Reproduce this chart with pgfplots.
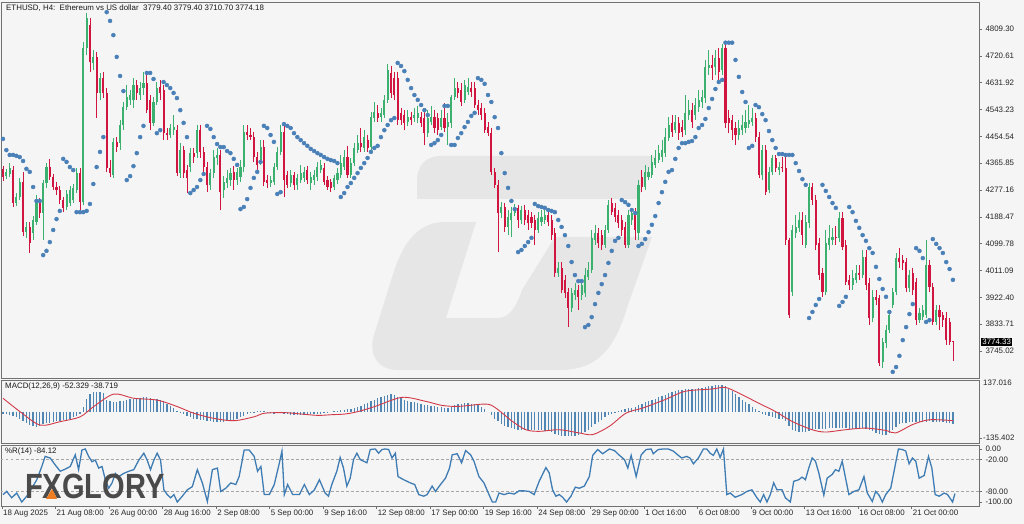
\documentclass[border=0pt]{standalone}
\usepackage{fontspec}
\setmainfont{Liberation Sans}
\usepackage{graphicx}
\usepackage{pgfplots}
\usepackage{pgfplotstable}
\pgfplotsset{compat=1.18}

\definecolor{bg}{HTML}{F5F5F5}
\definecolor{frame}{HTML}{707070}
\definecolor{bull}{HTML}{3CB06E}
\definecolor{bear}{HTML}{D01640}
\definecolor{sar}{HTML}{4A80B8}
\definecolor{hist}{HTML}{4F86B3}
\definecolor{sig}{HTML}{D23A48}
\definecolor{wpr}{HTML}{3F7CB3}
\definecolor{wmark}{HTML}{E6E6E6}
\definecolor{logo}{HTML}{4A4A4A}
\definecolor{orng}{HTML}{EE7D22}

\newcommand\mt{\fontsize{7.9}{9}\selectfont}

% ETHUSD H4 bars: open high low close, parabolic SAR, MACD main
\pgfplotstableread{
o h l c s m
4347 4356 4307 4320 4446 -8
4323 4347 4313 4337 4409 -12
4330 4366 4320 4350 4393 -15
4343 4356 4221 4234 4393 -18
4234 4267 4224 4254 4390 -25
4254 4317 4244 4304 4386 -32
4304 4337 4125 4138 4373 -40
4138 4171 4119 4155 4347 -48
4155 4171 4069 4102 4337 -56
4135 4191 4112 4178 4287 -63
4171 4261 4162 4244 4241 -65
4237 4251 4185 4201 4241 -60
4201 4310 4112 4300 4062 -55
4300 4366 4284 4353 4076 -50
4353 4380 4310 4320 4105 -47
4320 4330 4277 4287 4145 -45
4287 4304 4261 4277 4181 -42
4277 4290 4231 4244 4208 -40
4244 4254 4204 4218 4380 -38
4221 4277 4211 4264 4370 -35
4234 4290 4224 4277 4353 -30
4244 4297 4234 4284 4343 -25
4277 4350 4267 4333 4204 -20
4333 4350 4211 4237 4204 -10
4237 4766 4228 4746 4204 20
4746 4862 4723 4846 4208 55
4822 4846 4667 4700 4231 75
4697 4740 4674 4717 4297 85
4717 4733 4515 4598 4353 86
4598 4664 4575 4647 4403 85
4647 4667 4581 4598 4452 80
4598 4614 4337 4350 4865 50
4350 4376 4320 4333 4836 45
4327 4449 4317 4436 4789 40
4436 4452 4403 4419 4717 42
4432 4508 4409 4492 4654 45
4492 4568 4475 4551 4604 48
4551 4624 4541 4584 4310 52
4575 4608 4558 4591 4323 55
4575 4647 4548 4624 4356 57
4624 4641 4575 4598 4399 60
4591 4634 4575 4614 4452 61
4614 4667 4591 4631 4489 62
4631 4667 4532 4541 4664 62
4575 4591 4475 4499 4664 60
4499 4584 4489 4568 4644 57
4568 4634 4558 4614 4465 55
4618 4641 4575 4598 4475 52
4608 4624 4442 4465 4634 45
4465 4482 4442 4459 4624 35
4459 4495 4449 4482 4614 25
4475 4525 4459 4485 4598 15
4475 4492 4323 4333 4581 5
4333 4432 4317 4409 4541 -5
4409 4423 4317 4333 4499 -12
4343 4360 4267 4317 4452 -18
4353 4416 4337 4399 4267 -25
4399 4416 4366 4386 4277 -30
4399 4492 4383 4475 4287 -33
4475 4492 4383 4403 4310 -35
4403 4419 4337 4353 4330 -38
4353 4370 4270 4294 4489 -40
4294 4347 4277 4333 4479 -42
4333 4409 4317 4386 4452 -44
4383 4416 4360 4393 4429 -45
4393 4409 4211 4270 4419 -45
4277 4323 4251 4304 4419 -44
4300 4343 4284 4317 4406 -42
4310 4350 4290 4333 4399 -38
4337 4356 4277 4310 4380 -35
4310 4350 4294 4337 4360 -30
4320 4376 4304 4353 4214 -25
4353 4492 4337 4469 4221 -18
4469 4492 4442 4459 4247 -10
4459 4482 4442 4452 4284 -5
4452 4469 4370 4386 4317 -2
4386 4403 4343 4360 4337 2
4376 4442 4360 4419 4370 3
4419 4442 4290 4304 4489 2
4310 4327 4284 4300 4482 -2
4300 4323 4287 4310 4459 -5
4304 4366 4294 4353 4436 -8
4353 4419 4343 4403 4264 -5
4403 4492 4393 4469 4270 -3
4469 4489 4254 4310 4495 -8
4327 4340 4284 4294 4489 -12
4300 4343 4287 4327 4482 -14
4327 4337 4277 4294 4465 -15
4294 4330 4277 4317 4452 -15
4310 4360 4300 4333 4442 -15
4317 4353 4304 4337 4432 -14
4343 4356 4297 4310 4423 -13
4300 4337 4277 4320 4413 -12
4310 4343 4294 4327 4406 -10
4320 4370 4307 4353 4399 -10
4343 4376 4333 4360 4393 -8
4350 4366 4294 4304 4386 -5
4310 4323 4277 4287 4380 -3
4304 4313 4270 4284 4376 0
4287 4327 4277 4317 4373 3
4310 4350 4297 4333 4366 5
4327 4393 4317 4366 4254 6
4353 4409 4343 4386 4267 8
4386 4423 4317 4327 4287 10
4327 4383 4317 4366 4300 12
4366 4432 4356 4416 4317 15
4409 4459 4399 4432 4333 20
4432 4482 4403 4419 4350 26
4416 4475 4403 4452 4366 32
4442 4459 4403 4416 4383 38
4419 4535 4409 4518 4403 45
4515 4568 4502 4535 4416 52
4532 4558 4502 4515 4423 58
4518 4548 4502 4532 4452 63
4525 4591 4515 4575 4475 68
4575 4694 4565 4674 4492 73
4664 4687 4581 4598 4508 76
4647 4667 4575 4591 4515 74
4647 4667 4492 4508 4697 65
4532 4548 4492 4508 4687 58
4525 4541 4475 4499 4670 52
4502 4541 4489 4518 4641 48
4518 4535 4492 4508 4614 44
4515 4548 4502 4525 4591 40
4515 4555 4499 4532 4575 36
4518 4535 4485 4499 4558 32
4515 4535 4426 4465 4541 30
4465 4541 4452 4515 4525 28
4502 4555 4492 4518 4426 26
4518 4541 4465 4482 4432 24
4515 4532 4459 4475 4442 22
4485 4541 4475 4515 4459 20
4515 4565 4469 4482 4555 18
4485 4532 4426 4502 4555 17
4499 4591 4482 4584 4426 22
4584 4647 4575 4614 4426 28
4614 4634 4581 4598 4449 32
4608 4631 4555 4568 4465 35
4575 4641 4565 4624 4485 37
4601 4647 4591 4618 4502 36
4614 4634 4584 4601 4522 35
4614 4634 4548 4558 4532 33
4558 4575 4525 4541 4647 28
4548 4565 4508 4525 4641 20
4532 4548 4465 4475 4628 10
4485 4502 4456 4465 4591 0
4465 4482 4327 4337 4568 -15
4337 4350 4284 4294 4518 -30
4294 4310 4072 4201 4482 -42
4201 4237 4185 4221 4399 -52
4221 4234 4138 4155 4333 -60
4155 4211 4128 4188 4284 -68
4178 4221 4122 4201 4241 -72
4201 4231 4191 4218 4214 -75
4218 4228 4152 4178 4072 -78
4178 4224 4165 4211 4079 -80
4211 4228 4162 4178 4092 -80
4195 4211 4145 4168 4105 -80
4188 4204 4152 4168 4119 -80
4178 4195 4095 4145 4231 -79
4145 4204 4135 4185 4224 -78
4171 4211 4158 4188 4221 -80
4178 4211 4165 4195 4218 -82
4195 4211 4158 4171 4211 -85
4178 4195 4112 4128 4208 -88
4135 4152 3990 4003 4204 -95
4003 4039 3990 4019 4178 -100
4019 4039 3937 3947 4155 -104
3980 3996 3920 3937 4128 -106
3940 3953 3824 3887 4092 -107
3887 3953 3874 3937 4039 -106
3930 3970 3914 3947 3996 -104
3947 3963 3880 3924 3976 -100
3930 3980 3914 3963 3976 -95
3937 4019 3924 3996 3824 -88
3990 4039 3980 4013 3831 -78
4013 4145 4003 4119 3857 -68
4112 4162 4095 4135 3900 -55
4135 4152 4085 4102 3937 -45
4128 4145 4079 4095 3966 -35
4095 4162 4085 4145 3996 -25
4145 4244 4135 4228 4036 -15
4234 4251 4195 4204 4076 -8
4218 4234 4171 4188 4109 -3
4195 4211 4152 4168 4119 3
4178 4195 4125 4145 4244 8
4155 4171 4085 4095 4237 12
4095 4211 4085 4195 4228 15
4178 4218 4162 4201 4211 18
4201 4218 4112 4145 4201 22
4135 4310 4112 4294 4092 28
4320 4343 4270 4287 4099 35
4287 4360 4277 4337 4115 42
4320 4353 4310 4337 4138 48
4327 4393 4317 4370 4162 52
4360 4409 4350 4383 4191 55
4376 4426 4366 4399 4234 62
4386 4442 4370 4409 4270 68
4399 4482 4386 4452 4304 73
4449 4518 4439 4492 4337 80
4499 4525 4452 4469 4343 86
4475 4525 4465 4502 4380 90
4499 4518 4442 4465 4416 93
4485 4508 4452 4469 4432 95
4475 4591 4459 4532 4432 96
4525 4575 4508 4541 4436 97
4541 4565 4482 4502 4439 98
4525 4581 4508 4558 4452 100
4551 4608 4535 4575 4482 102
4568 4608 4548 4584 4492 104
4581 4707 4565 4684 4512 107
4680 4740 4657 4690 4548 110
4690 4723 4641 4680 4578 113
4684 4740 4657 4713 4611 115
4713 4746 4641 4667 4634 117
4674 4760 4657 4746 4641 117
4746 4760 4482 4499 4764 112
4515 4541 4465 4499 4764 100
4508 4525 4442 4475 4764 88
4482 4502 4426 4459 4707 75
4459 4508 4442 4482 4651 62
4475 4525 4459 4492 4601 52
4482 4541 4465 4502 4568 42
4495 4558 4482 4508 4416 32
4502 4548 4489 4515 4423 22
4515 4532 4436 4452 4558 12
4452 4469 4317 4327 4551 3
4327 4426 4310 4409 4528 -8
4409 4426 4261 4270 4508 -15
4277 4353 4267 4337 4472 -20
4337 4393 4327 4383 4442 -24
4383 4393 4337 4350 4416 -28
4343 4370 4327 4353 4396 -30
4353 4386 4337 4350 4396 -32
4350 4393 4095 4112 4393 -40
4112 4119 3854 3864 4393 -60
3940 4162 3927 4145 4393 -78
4135 4195 4119 4155 4366 -85
4152 4204 4138 4178 4340 -88
4178 4204 4095 4128 4313 -90
4095 4195 4085 4171 4294 -88
4168 4300 4152 4287 3854 -84
4287 4300 4228 4244 3874 -80
4244 4261 4079 4095 3897 -75
4102 4119 3980 3996 3917 -75
4003 4019 3924 3940 4294 -75
3940 4145 3930 4102 4274 -73
4095 4162 4079 4119 4254 -72
4112 4152 4095 4122 4234 -72
4122 4158 4095 4119 4218 -72
4119 4204 4105 4185 3894 -70
4185 4204 4079 4089 3907 -70
4095 4112 3963 3973 3924 -72
3980 3996 3947 3963 4221 -74
3963 4013 3947 3986 4204 -74
3980 4029 3970 4003 4175 -73
4003 4029 3980 3996 4152 -72
3996 4079 3986 4056 4128 -72
4056 4079 3947 3963 4109 -73
3970 3986 3831 3854 4085 -78
3854 3947 3841 3924 4069 -85
3924 3947 3897 3914 4023 -92
3920 3930 3696 3705 3983 -98
3709 3788 3689 3775 3950 -102
3771 3831 3755 3814 3924 -100
3814 3880 3804 3864 3874 -92
3897 3953 3887 3940 3676 -80
3940 4069 3930 4052 3692 -65
4052 4085 4019 4039 3729 -55
4046 4062 4013 4036 3781 -50
4039 4052 3940 3953 3824 -47
3953 4013 3940 3996 3867 -45
4003 4019 3930 3947 3900 -44
3973 3986 3831 3847 4085 -45
3847 3887 3838 3871 4076 -46
3857 3897 3847 3880 4052 -45
3864 4112 3854 4029 3841 -43
4029 4046 3940 3957 3847 -42
3957 3970 3831 3841 4115 -43
3841 3897 3831 3880 4099 -44
3880 3897 3814 3857 4085 -45
3864 3874 3824 3847 4069 -46
3854 3874 3765 3781 4039 -47
3841 3854 3765 3775 4016 -50
3779.40 3779.40 3710.70 3774.18 3980 -52.33
}\eth

% MACD signal line
\pgfplotstableread{
x y
0 58
5.1 0
11.1 -58
17.1 -43
23.1 -22
27.1 22
33.1 76
39.1 58
46.1 50
52.1 22
57.1 -7
63.1 -29
69.1 -39
75.1 -22
78.1 -7
84.1 -4
89.1 -10
94.1 -16
98.3 -13
102.3 -10
106.3 1
111.3 23
119.3 62
126.3 45
131.3 27
136.3 23
144.3 33
147.3 16
152.3 -42
156.3 -78
160.3 -85
166.3 -78
172.3 -92
176.3 -99
181.3 -63
186.3 -6
191.3 16
197.9 52
203.9 88
211.9 98
215.9 105
219.9 81
225.9 37
230.9 1
235.9 -42
241.9 -78
245.9 -88
251.9 -78
257.9 -71
263.9 -81
266.9 -92
271.9 -56
276.9 -35
284 -38.72
}\sig

% Williams %R(14)
\pgfplotstableread{
x y
0 -86
1.1 -80
2.6 -92
4.1 -83
5.6 -100
7.1 -89
8.6 -74
10.1 -58
11.6 -33
12.6 -14
14.1 -17
15.6 -30
17.1 -42
18.6 -38
20.1 -33
21.6 -11
22.6 -39
23.6 -2
24.6 0
25.6 -14
26.6 -24
27.6 -21
28.6 -36
29.6 -33
30.6 -58
31.6 -74
32.6 -64
33.6 -46
34.6 -52
36.1 -46
37.6 -42
39.1 -39
40.6 -21
42.1 -8
43.1 -21
44.1 -39
45.1 -21
46.1 -8
47.1 -21
48.1 -77
49.1 -86
50.1 -92
51.1 -86
52.1 -100
53.6 -89
55.1 -77
56.6 -71
58.1 -39
59.6 -64
61.1 -99
62.6 -39
64.1 -36
65.1 -80
66.6 -74
68.1 -64
69.6 -67
70.6 -52
72.1 -2
73.6 -2
75.1 -14
76.1 -42
77.1 -33
78.1 -86
79.6 -86
81.1 -67
82.6 -27
83.4 -4
84.1 -86
85.1 -67
86.6 -86
88.6 -86
90.1 -67
91.6 -86
93.1 -77
94.6 -58
96.3 -83
97.3 -89
98.3 -67
99.8 -42
100.8 -16
101.8 -36
102.8 -70
103.8 -55
104.8 -20
105.8 -8
106.8 -20
107.8 -23
108.8 -26
109.8 -1
111.3 0
112.3 -8
113.3 -1
114.3 0
115.3 -1
116.3 -17
117.3 -8
118.1 -52
119.8 -58
121.8 -64
123.1 -67
124.3 -86
125.8 -89
126.8 -86
128.3 -70
129.3 -80
130.8 -67
132.3 -55
133.5 -36
134.3 -11
135.8 -9
137.1 -26
138.3 -3
139.8 -11
140.8 -23
142.3 -52
143.8 -64
145.3 -86
146.3 -100
147.3 -100
148.3 -83
149.8 -86
151.3 -83
152.8 -85
154.3 -79
155.8 -79
157.3 -80
158.8 -86
160.3 -61
162.3 -35
163.3 -45
164.3 -77
165.3 -89
166.3 -86
167.3 -91
168.5 -100
169.8 -89
171.1 -72
172.3 -74
173.8 -70
175.3 -52
176.3 -12
177.8 -1
179.3 -9
181.3 0
182.8 -3
184.3 -12
185.8 -20
186.8 -36
187.8 -12
189.3 -52
190.8 -11
192.3 -1
193.8 0
194.4 -9
195.9 -1
197.4 0
198.9 0
200.4 -4
201.9 -12
202.9 -17
204.4 -14
205.4 -17
206.4 -28
207.9 -17
209.4 0
210.4 0
211.4 -8
212.4 -12
213.4 0
214.4 -16
215.4 0
216.4 -86
217.4 -83
218.9 -91
220.9 -86
222.4 -80
223.9 -77
225.4 -92
226.4 -100
227.4 -86
228.4 -100
229.4 -86
230.4 -64
231.4 -77
232.9 -77
233.9 -92
235.4 -100
236.4 -61
237.9 -58
238.9 -53
239.9 -58
240.9 -36
241.9 -17
242.9 -23
243.9 -45
245.4 -87
246.4 -55
247.9 -48
248.9 -39
249.9 -42
250.9 -23
251.9 -55
252.9 -86
254.4 -80
255.9 -77
257.4 -52
258.4 -83
259.9 -99
260.9 -80
261.9 -87
262.9 -100
263.9 -86
265.4 -74
266.4 -42
267.7 0
268.9 -1
269.9 -4
270.9 -28
271.9 -17
272.9 -23
273.9 -55
275.4 -50
276.7 -14
277.7 -36
278.7 -86
279.9 -89
281.4 -83
282.4 -86
283.9 -100
284.6 -84.12
}\wpr

\pgfplotsset{
  panel/.style={
    scale only axis, width=978pt, anchor=south west,
    xmin=-0.6, xmax=291.8,
    axis line style={draw=frame, line width=0.8pt},
    tick style={draw=frame, line width=0.6pt},
    major tick length=3pt, tick align=outside,
    ytick pos=right, yticklabel pos=right,
    ticklabel style={font=\mt, text=black!85},
    clip mode=individual,
  },
  candle/.style 2 args={only marks, mark=*, mark options={opacity=0},
    error bars/.cd, y dir=both, y explicit, error mark=none,
    error bar style={draw=#1, solid, line width=#2}},
}

\begin{document}
\begin{tikzpicture}
\fill[bg] (0,0) rectangle (1024pt,524pt);

% faint logo watermark behind the price panel
\begin{scope}[x=1pt, y=-1pt, shift={(0pt,524pt)}]
\fill[wmark] (440,156) -- (655,156) -- (638,199) -- (417,199) -- (417,180)
  .. controls (417,166) and (426,156) .. (440,156) -- cycle;
\fill[wmark] (445,222) -- (476,222) -- (446,318) -- (498,318)
  .. controls (510,318) and (517,305) .. (522,290) -- (555,237) -- (652,237)
  -- (628,305) .. controls (616,345) and (600,370) .. (560,370) -- (398,370)
  .. controls (378,370) and (368,355) .. (374,335) -- (395,268)
  .. controls (405,240) and (420,222) .. (445,222) -- cycle;
\end{scope}

% price panel
\begin{axis}[panel, at={(1pt,146pt)}, height=376pt,
  ymin=3655.8, ymax=4898.5, xtick=\empty,
  ytick={3745.02,3833.71,3922.40,4011.09,4099.78,4188.47,4277.16,4365.85,4454.54,4543.23,4631.92,4720.61,4809.30},
  yticklabels={3745.02,3833.71,3922.40,4011.09,4099.78,4188.47,4277.16,4365.85,4454.54,4543.23,4631.92,4720.61,4809.30}]
\addplot[candle={bull}{0.8pt}]
  table[x expr=\coordindex, y expr={\thisrow{c}>=\thisrow{o} ? 0.5*(\thisrow{h}+\thisrow{l}) : nan},
        y error expr={0.5*(\thisrow{h}-\thisrow{l})}] {\eth};
\addplot[candle={bear}{0.8pt}]
  table[x expr=\coordindex, y expr={\thisrow{c}<\thisrow{o} ? 0.5*(\thisrow{h}+\thisrow{l}) : nan},
        y error expr={0.5*(\thisrow{h}-\thisrow{l})}] {\eth};
\addplot[candle={bull}{2.1pt}]
  table[x expr=\coordindex, y expr={\thisrow{c}>=\thisrow{o} ? 0.5*(\thisrow{o}+\thisrow{c}) : nan},
        y error expr={max(0.5*abs(\thisrow{c}-\thisrow{o}),1.5)}] {\eth};
\addplot[candle={bear}{2.1pt}]
  table[x expr=\coordindex, y expr={\thisrow{c}<\thisrow{o} ? 0.5*(\thisrow{o}+\thisrow{c}) : nan},
        y error expr={max(0.5*abs(\thisrow{c}-\thisrow{o}),1.5)}] {\eth};
\addplot[only marks, color=sar, mark=*, mark size=2pt, mark options={draw=sar, fill=sar}]
  table[x expr=\coordindex, y=s] {\eth};
\node[anchor=west, fill=black, text=white, font=\mt, inner sep=1.2pt, xshift=2pt]
  at (axis cs:291.8,3774.33) {3774.33};
\end{axis}

% MACD panel
\begin{axis}[panel, at={(1pt,81pt)}, height=63pt,
  ymin=-135.402, ymax=137.016, xtick=\empty, ytick=\empty]
\addplot[ycomb, draw=hist, line width=1.3pt, mark=none]
  table[x expr=\coordindex, y=m] {\eth};
\addplot[sig, line width=0.9pt, smooth, tension=0.5, mark=none] table {\sig};
\end{axis}

% Williams %R panel
\begin{axis}[panel, at={(1pt,18pt)}, height=61pt,
  ymin=-107.5, ymax=7.5,
  ytick={-100,-80,-20,0}, yticklabels={-100.00,-80.00,-20.00,0.00},
  xtick pos=bottom,
  xtick={-0.3,15.7,31.7,47.7,63.7,79.7,95.7,111.7,127.7,143.7,159.7,175.7,191.7,207.7,223.7,239.7,255.7,271.7},
  xticklabels={18 Aug 2025,21 Aug 08:00,26 Aug 00:00,28 Aug 16:00,2 Sep 08:00,5 Sep 00:00,9 Sep 16:00,12 Sep 08:00,17 Sep 00:00,19 Sep 16:00,24 Sep 08:00,29 Sep 00:00,1 Oct 16:00,6 Oct 08:00,9 Oct 00:00,13 Oct 16:00,16 Oct 08:00,21 Oct 00:00},
  xticklabel style={anchor=north west, inner sep=1pt}]
\draw[black!35, line width=0.6pt, dash pattern=on 2.5pt off 2.5pt] (axis cs:-0.6,-20) -- (axis cs:291.8,-20);
\draw[black!35, line width=0.6pt, dash pattern=on 2.5pt off 2.5pt] (axis cs:-0.6,-80) -- (axis cs:291.8,-80);
\addplot[wpr, line width=1.3pt, mark=none] table {\wpr};
\end{axis}

% panel captions, MACD scale labels and broker logo
\begin{scope}[x=1pt, y=-1pt, shift={(0pt,524pt)}]
\node[anchor=west, font=\mt, text=black!90, inner sep=0] at (6,8)
  {ETHUSD, H4:\ \ Ethereum vs US dollar\ \ 3779.40 3779.40 3710.70 3774.18};
\node[anchor=west, font=\mt, text=black!90, inner sep=0] at (5,386) {MACD(12,26,9) -52.329 -38.719};
\node[anchor=west, font=\mt, text=black!90, inner sep=0] at (5,451) {\%R(14) -84.12};
\node[anchor=west, font=\mt, text=black!85, inner sep=0] at (983,383) {137.016};
\draw[frame, line width=0.6pt] (979,438) -- (982,438);
\node[anchor=west, font=\mt, text=black!85, inner sep=0] at (983,438) {-135.402};
\node[anchor=base west, inner sep=0, text=logo] at (25,499)
  {\scalebox{0.83}[1]{\fontsize{35}{35}\selectfont\bfseries FXGLORY}};
\fill[orng] (46,499) -- (52,489) -- (57,499) -- cycle;
\end{scope}

\pgfresetboundingbox
\path[use as bounding box] (0,0) rectangle (1024pt,524pt);
\end{tikzpicture}
\end{document}
